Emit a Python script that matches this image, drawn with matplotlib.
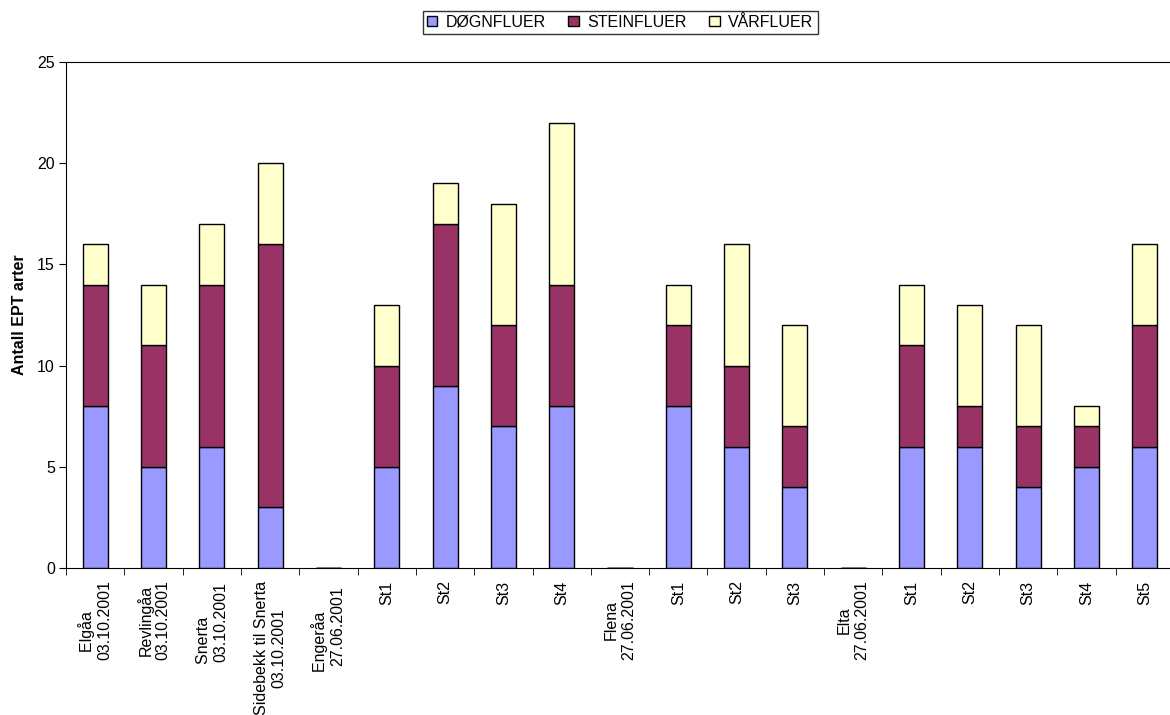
import numpy as np
import matplotlib
matplotlib.use('Agg')
import matplotlib.pyplot as plt

plt.rcParams['font.family'] = ['Liberation Sans', 'DejaVu Sans']

labels = ['Elgåa     \n03.10.2001', 'Revlingåa\n03.10.2001', 'Snerta        \n03.10.2001',
          'Sidebekk til Snerta\n03.10.2001', 'Engeråa       \n27.06.2001',
          'St1', 'St2', 'St3', 'St4', 'Flena\n27.06.2001',
          'St1', 'St2', 'St3', 'Elta\n27.06.2001',
          'St1', 'St2', 'St3', 'St4', 'St5']
dognfluer = [8, 5, 6, 3, 0, 5, 9, 7, 8, 0, 8, 6, 4, 0, 6, 6, 4, 5, 6]
steinfluer = [6, 6, 8, 13, 0, 5, 8, 5, 6, 0, 4, 4, 3, 0, 5, 2, 3, 2, 6]
varfluer = [2, 3, 3, 4, 0, 3, 2, 6, 8, 0, 2, 6, 5, 0, 3, 5, 5, 1, 4]

series = [('DØGNFLUER', dognfluer, '#9999FF'),
          ('STEINFLUER', steinfluer, '#993366'),
          ('VÅRFLUER', varfluer, '#FFFFCC')]

fig = plt.figure(figsize=(11.7, 7.15), dpi=100)
ax = fig.add_axes([66/1170, 147/715, 1108/1170, 506/715])

x = np.arange(len(labels))
bottom = np.zeros(len(labels))
for name, vals, col in series:
    vals = np.array(vals, dtype=float)
    ax.bar(x, vals, 0.43, bottom=bottom, color=col, edgecolor='black', lw=1, label=name)
    bottom += vals

ax.set_xlim(-0.5, len(labels) - 0.5)
ax.set_ylim(0, 25)
ax.set_yticks([0, 5, 10, 15, 20, 25])
ax.tick_params(axis='y', direction='out', length=5, labelsize=11.5, pad=3)
ax.set_xticks(x)
ax.set_xticklabels(labels, rotation=90, ha='center', va='top', multialignment='center', fontsize=11.5)
ax.tick_params(axis='x', which='major', length=0, pad=9)
ax.set_xticks(np.arange(-0.5, len(labels), 1), minor=True)
ax.tick_params(axis='x', which='minor', direction='out', length=5)
ax.spines['right'].set_visible(False)
ax.set_ylabel('Antall EPT arter', fontsize=11.5, fontweight='bold', labelpad=7)

fig.legend(loc='center', bbox_to_anchor=(0.53, 0.969), ncol=3, fontsize=11.5,
           frameon=True, fancybox=False, edgecolor='black', handlelength=0.65,
           handleheight=0.65, handletextpad=0.55, columnspacing=1.4,
           borderpad=0.25, borderaxespad=0).get_frame().set_linewidth(1)

fig.savefig('out.png', dpi=100)
